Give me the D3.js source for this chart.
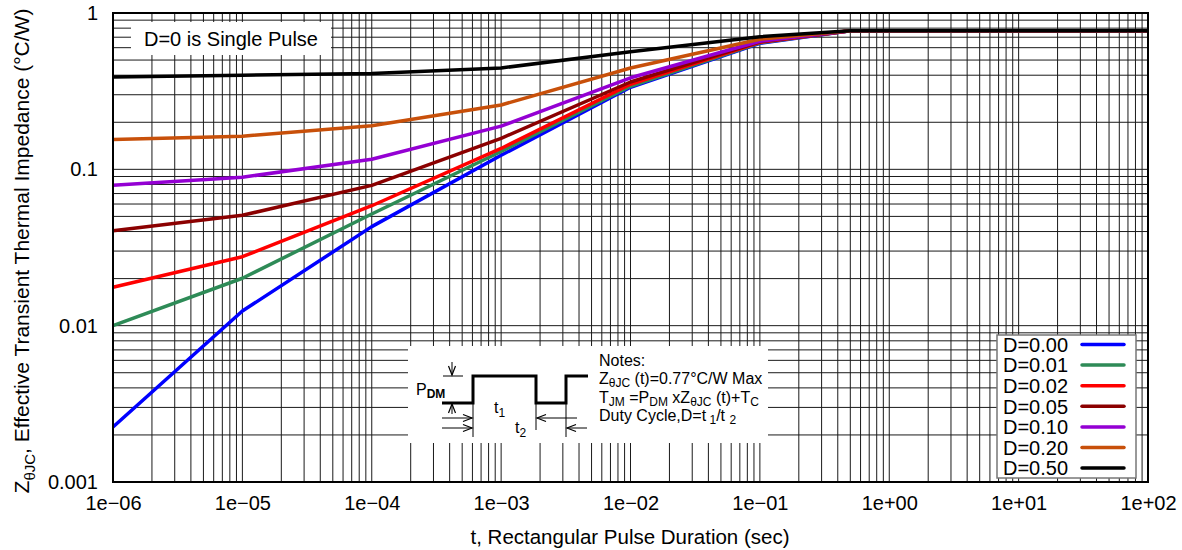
<!DOCTYPE html>
<html>
<head>
<meta charset="utf-8">
<script src="https://cdn.jsdelivr.net/npm/d3@7"></script>
<style>
  body { margin: 0; background: #fff; }
  svg text { font-family: "Liberation Sans", Arial, Helvetica, sans-serif; fill: #000; }
</style>
</head>
<body>
<svg id="chart" width="1182" height="550"></svg>
<script>
// pulse durations (sec)
const pulseTimes = [1e-6, 1e-5, 1e-4, 1e-3, 1e-2, 1e-1, 0.5, 1, 10, 100];

// Z thetaJC for each duty cycle (C/W)
const zD000 = [0.00225, 0.0124, 0.043, 0.123, 0.335, 0.64, 0.77, 0.77, 0.77, 0.77];
const zD001 = [0.0100, 0.0201, 0.0518, 0.130, 0.340, 0.645, 0.77, 0.77, 0.77, 0.77];
const zD002 = [0.0176, 0.0276, 0.0585, 0.136, 0.350, 0.65, 0.77, 0.77, 0.77, 0.77];
const zD005 = [0.0405, 0.0508, 0.079, 0.158, 0.362, 0.655, 0.77, 0.77, 0.77, 0.77];
const zD010 = [0.079, 0.089, 0.116, 0.189, 0.385, 0.66, 0.77, 0.77, 0.77, 0.77];
const zD020 = [0.155, 0.163, 0.19, 0.258, 0.445, 0.68, 0.77, 0.77, 0.77, 0.77];
const zD050 = [0.39, 0.40, 0.41, 0.445, 0.565, 0.705, 0.77, 0.77, 0.77, 0.77];

const dutyLabels = ["D=0.00", "D=0.01", "D=0.02", "D=0.05", "D=0.10", "D=0.20", "D=0.50"];
const dutyColors = ["#0000ff", "#2e8b57", "#ff0000", "#8b0000", "#9400d3", "#c8500a", "#000000"];
const dutySeries = [zD000, zD001, zD002, zD005, zD010, zD020, zD050];

const xTicks = [1e-6, 1e-5, 1e-4, 1e-3, 1e-2, 1e-1, 1, 10, 100];
const xTickLabels = ["1e\u221206", "1e\u221205", "1e\u221204", "1e\u221203", "1e\u221202", "1e\u221201", "1e+00", "1e+01", "1e+02"];
const yTicks = [0.001, 0.01, 0.1, 1];
const yTickLabels = ["0.001", "0.01", "0.1", "1"];

document.addEventListener("DOMContentLoaded", function () {
  const svg = d3.select("#chart");
  const left = 113, right = 1148, top = 13, bottom = 482;

  const x = d3.scaleLog().domain([1e-6, 1e2]).range([left, right]);
  const y = d3.scaleLog().domain([1e-3, 1]).range([bottom, top]);

  // 1. grid (1..9 in every decade)
  const xGrid = [];
  for (let k = -6; k < 2; k++) for (let m = 1; m <= 9; m++) xGrid.push(m * Math.pow(10, k));
  xGrid.push(100);
  const yGrid = [];
  for (let k = -3; k < 0; k++) for (let m = 1; m <= 9; m++) yGrid.push(m * Math.pow(10, k));
  yGrid.push(1);

  const grid = svg.append("g").attr("stroke", "#1a1a1a").attr("stroke-width", 1);
  grid.selectAll("line.v").data(xGrid).enter().append("line")
    .attr("x1", d => x(d)).attr("x2", d => x(d))
    .attr("y1", top).attr("y2", bottom);
  grid.selectAll("line.h").data(yGrid).enter().append("line")
    .attr("x1", left).attr("x2", right)
    .attr("y1", d => y(d)).attr("y2", d => y(d));

  // 2. white boxes over grid
  svg.append("rect").attr("x", 131).attr("y", 22).attr("width", 200).attr("height", 33).attr("fill", "#fff");
  svg.append("rect").attr("x", 408).attr("y", 346).attr("width", 360).attr("height", 97).attr("fill", "#fff");

  // 3. curves
  const line = d3.line()
    .x((d, i) => x(pulseTimes[i]))
    .y(d => y(d));

  svg.append("g").selectAll("path")
    .data(dutySeries).enter().append("path")
    .attr("d", d => line(d))
    .attr("fill", "none")
    .attr("stroke", (d, i) => dutyColors[i])
    .attr("stroke-width", 3.5)
    .attr("stroke-linejoin", "round");

  // 4. frame
  svg.append("rect")
    .attr("x", left).attr("y", top)
    .attr("width", right - left).attr("height", bottom - top)
    .attr("fill", "none").attr("stroke", "#000").attr("stroke-width", 2);

  // 5. axes
  const xAxis = d3.axisBottom(x).tickValues(xTicks)
    .tickFormat((d, i) => xTickLabels[i]).tickSize(0).tickPadding(14);
  const gx = svg.append("g").attr("transform", `translate(0,${bottom})`).call(xAxis);
  gx.select(".domain").remove();
  gx.selectAll("text").attr("font-size", 20).attr("font-family", null);

  const yAxis = d3.axisLeft(y).tickValues(yTicks)
    .tickFormat((d, i) => yTickLabels[i]).tickSize(0).tickPadding(15);
  const gy = svg.append("g").attr("transform", `translate(${left},0)`).call(yAxis);
  gy.select(".domain").remove();
  gy.selectAll("text").attr("font-size", 20).attr("font-family", null);

  svg.append("text")
    .attr("x", 630).attr("y", 544)
    .attr("text-anchor", "middle").attr("font-size", 20.5)
    .text("t, Rectangular Pulse Duration (sec)");

  const yTitle = svg.append("text")
    .attr("transform", "translate(29,251) rotate(-90)")
    .attr("text-anchor", "middle").attr("font-size", 21);
  yTitle.append("tspan").text("Z");
  yTitle.append("tspan").attr("font-size", 15).attr("dy", 6).text("\u03b8JC");
  yTitle.append("tspan").attr("dy", -6).text(", Effective Transient Thermal Impedance (\u00b0C/W)");

  svg.append("text").attr("x", 144).attr("y", 46).attr("font-size", 20)
    .text("D=0 is Single Pulse");

  // 6. legend
  const legend = svg.append("g");
  legend.append("rect")
    .attr("x", 997).attr("y", 335).attr("width", 139).attr("height", 143)
    .attr("fill", "#fff").attr("stroke", "#777").attr("stroke-width", 1.5);
  const rows = legend.selectAll("g.row").data(dutyLabels).enter().append("g")
    .attr("transform", (d, i) => `translate(0,${344.5 + i * 20.6})`);
  rows.append("text").attr("x", 1003).attr("y", 0).attr("dy", "0.36em")
    .attr("font-size", 20).text(d => d);
  rows.append("line").attr("x1", 1082).attr("x2", 1124).attr("y1", 0).attr("y2", 0)
    .attr("stroke", (d, i) => dutyColors[i]).attr("stroke-width", 3.5)
    .attr("stroke-linecap", "round");

  // 7. notes inset with pulse sketch
  const inset = svg.append("g");
  inset.append("path")
    .attr("d", "M442,403 H473 V376 H536 V403 H566 V376 H588")
    .attr("fill", "none").attr("stroke", "#000").attr("stroke-width", 3);

  const thin = inset.append("g").attr("stroke", "#000").attr("stroke-width", 1).attr("fill", "none");
  thin.append("path").attr("d", "M443,376 H463");
  thin.append("path").attr("d", "M473,403 V437 M536,403 V430 M566,403 V437");
  // arrow shafts
  thin.append("path").attr("d", "M452,362 V375 M452,404 V414");
  thin.append("path").attr("d", "M442,418 H472 M442,428 H472 M577,418 H537 M587,428 H567");

  const arrows = [
    [452, 375, 0, 1], [452, 404, 0, -1],
    [472, 418, 1, 0], [472, 428, 1, 0],
    [537, 418, -1, 0], [567, 428, -1, 0]
  ];
  inset.selectAll("path.head").data(arrows).enter().append("path")
    .attr("d", d => {
      const [px, py, dx, dy] = d;
      const bx = px - dx * 9, by = py - dy * 9;
      const nx = -dy * 3.5, ny = dx * 3.5;
      return `M${bx + nx},${by + ny} L${px},${py} L${bx - nx},${by - ny}`;
    })
    .attr("fill", "none").attr("stroke", "#000").attr("stroke-width", 1.2);

  const pdm = inset.append("text").attr("x", 416).attr("y", 395).attr("font-size", 16);
  pdm.append("tspan").text("P");
  pdm.append("tspan").attr("dy", 3).attr("font-size", 12).attr("font-weight", "bold").text("DM");

  const t1 = inset.append("text").attr("x", 494).attr("y", 413).attr("font-size", 16);
  t1.append("tspan").text("t");
  t1.append("tspan").attr("dy", 4).attr("font-size", 12).text("1");
  const t2 = inset.append("text").attr("x", 515).attr("y", 433).attr("font-size", 16);
  t2.append("tspan").text("t");
  t2.append("tspan").attr("dy", 4).attr("font-size", 12).text("2");

  const notes = [
    [["Notes:", 0]],
    [["Z", 0], ["\u03b8JC", 1], [" (t)=0.77\u00b0C/W Max", 0]],
    [["T", 0], ["JM", 1], [" =P", 0], ["DM", 1], [" xZ", 0], ["\u03b8JC", 1], [" (t)+T", 0], ["C", 1]],
    [["Duty Cycle,D=t", 0], [" 1", 1], ["/t ", 0], ["2", 1]]
  ];
  const noteY = [366, 384, 403, 421];
  notes.forEach((parts, i) => {
    const t = inset.append("text").attr("x", 599).attr("y", noteY[i]).attr("font-size", 16);
    let sub = 0;
    parts.forEach(p => {
      const span = t.append("tspan").text(p[0]);
      if (p[1] !== sub) span.attr("dy", p[1] ? 3 : -3);
      if (p[1]) span.attr("font-size", 12);
      sub = p[1];
    });
  });
});
</script>
</body>
</html>
